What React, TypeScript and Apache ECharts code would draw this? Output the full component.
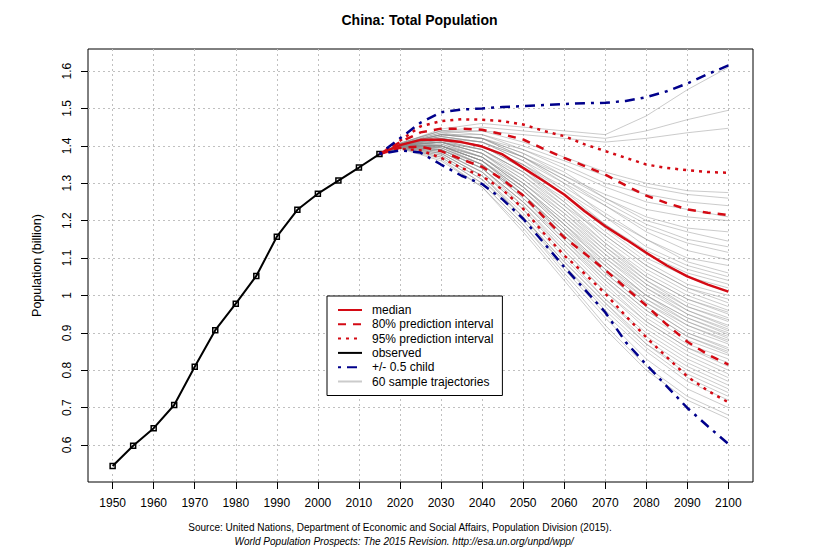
import React, { useEffect, useRef } from "react";
import * as echarts from "echarts";

const obsYears = [1950, 1955, 1960, 1965, 1970, 1975, 1980, 1985, 1990, 1995, 2000, 2005, 2010, 2015];
const observed = [0.544, 0.598, 0.645, 0.707, 0.809, 0.907, 0.978, 1.052, 1.157, 1.229, 1.272, 1.307, 1.342, 1.378];

const projYears = [2015, 2020, 2025, 2030, 2035, 2040, 2045, 2050, 2055, 2060, 2065, 2070, 2075, 2080, 2085, 2090, 2095, 2100];
const median = [1.378, 1.402, 1.416, 1.416, 1.41, 1.398, 1.377, 1.341, 1.306, 1.27, 1.225, 1.185, 1.15, 1.114, 1.08, 1.051, 1.029, 1.01];
const upper80 = [1.378, 1.41, 1.436, 1.446, 1.446, 1.443, 1.431, 1.417, 1.392, 1.368, 1.346, 1.323, 1.294, 1.267, 1.247, 1.23, 1.221, 1.215];
const lower80 = [1.378, 1.395, 1.398, 1.386, 1.364, 1.344, 1.31, 1.267, 1.21, 1.155, 1.112, 1.068, 1.02, 0.973, 0.922, 0.876, 0.842, 0.815];
const upper95 = [1.378, 1.414, 1.452, 1.466, 1.471, 1.47, 1.466, 1.457, 1.44, 1.426, 1.404, 1.386, 1.368, 1.35, 1.341, 1.335, 1.33, 1.328];
const lower95 = [1.378, 1.392, 1.388, 1.368, 1.341, 1.319, 1.283, 1.232, 1.167, 1.107, 1.058, 1.005, 0.945, 0.888, 0.835, 0.783, 0.745, 0.714];
const upperChild = [1.378, 1.42, 1.462, 1.49, 1.497, 1.5, 1.504, 1.506, 1.509, 1.512, 1.514, 1.515, 1.52, 1.53, 1.546, 1.567, 1.592, 1.615];
const lowerChild = [1.378, 1.388, 1.382, 1.35, 1.32, 1.298, 1.257, 1.205, 1.141, 1.076, 1.016, 0.955, 0.875, 0.815, 0.757, 0.699, 0.65, 0.603];

const trajYears = [2015, 2020, 2030, 2040, 2050, 2060, 2070, 2080, 2090, 2100];
const trajectories = [
  [1.378, 1.405, 1.445, 1.46, 1.45, 1.44, 1.43, 1.48, 1.55, 1.61],
  [1.378, 1.408, 1.44, 1.45, 1.44, 1.43, 1.42, 1.44, 1.47, 1.495],
  [1.378, 1.407, 1.44, 1.44, 1.43, 1.42, 1.41, 1.42, 1.435, 1.447],
  [1.378, 1.405, 1.435, 1.44, 1.41, 1.37, 1.33, 1.3, 1.28, 1.275],
  [1.378, 1.404, 1.43, 1.43, 1.4, 1.36, 1.32, 1.29, 1.27, 1.26],
  [1.378, 1.406, 1.44, 1.43, 1.39, 1.35, 1.3, 1.27, 1.25, 1.24],
  [1.378, 1.403, 1.43, 1.42, 1.39, 1.34, 1.29, 1.25, 1.23, 1.21],
  [1.378, 1.404, 1.425, 1.41, 1.37, 1.32, 1.27, 1.23, 1.21, 1.2],
  [1.378, 1.404, 1.43, 1.42, 1.38, 1.33, 1.26, 1.2, 1.17, 1.145],
  [1.378, 1.403, 1.42, 1.41, 1.36, 1.3, 1.24, 1.18, 1.14, 1.115],
  [1.378, 1.402, 1.425, 1.41, 1.37, 1.31, 1.24, 1.17, 1.12, 1.095],
  [1.378, 1.403, 1.42, 1.4, 1.35, 1.28, 1.21, 1.15, 1.1, 1.08],
  [1.378, 1.402, 1.415, 1.4, 1.35, 1.29, 1.22, 1.15, 1.09, 1.06],
  [1.378, 1.401, 1.42, 1.4, 1.34, 1.27, 1.19, 1.12, 1.07, 1.04],
  [1.378, 1.403, 1.425, 1.41, 1.36, 1.28, 1.19, 1.11, 1.06, 1.03],
  [1.378, 1.401, 1.41, 1.39, 1.33, 1.26, 1.17, 1.09, 1.03, 1.0],
  [1.378, 1.402, 1.415, 1.39, 1.33, 1.25, 1.16, 1.08, 1.02, 0.99],
  [1.378, 1.4, 1.41, 1.38, 1.32, 1.24, 1.16, 1.08, 1.02, 0.98],
  [1.378, 1.402, 1.42, 1.4, 1.34, 1.25, 1.15, 1.07, 1.01, 0.97],
  [1.378, 1.401, 1.41, 1.38, 1.31, 1.23, 1.14, 1.06, 1.0, 0.96],
  [1.378, 1.4, 1.405, 1.37, 1.3, 1.22, 1.13, 1.05, 0.99, 0.955],
  [1.378, 1.401, 1.41, 1.39, 1.33, 1.24, 1.14, 1.05, 0.99, 0.95],
  [1.378, 1.4, 1.4, 1.37, 1.3, 1.21, 1.12, 1.04, 0.98, 0.94],
  [1.378, 1.402, 1.415, 1.39, 1.32, 1.23, 1.13, 1.04, 0.97, 0.935],
  [1.378, 1.399, 1.4, 1.36, 1.29, 1.2, 1.11, 1.03, 0.97, 0.93],
  [1.378, 1.401, 1.41, 1.38, 1.31, 1.22, 1.12, 1.03, 0.96, 0.92],
  [1.378, 1.4, 1.4, 1.37, 1.29, 1.2, 1.1, 1.02, 0.96, 0.915],
  [1.378, 1.399, 1.4, 1.36, 1.28, 1.19, 1.1, 1.01, 0.95, 0.91],
  [1.378, 1.401, 1.41, 1.38, 1.3, 1.21, 1.11, 1.02, 0.95, 0.905],
  [1.378, 1.4, 1.4, 1.36, 1.28, 1.18, 1.09, 1.0, 0.94, 0.9],
  [1.378, 1.398, 1.395, 1.35, 1.27, 1.17, 1.08, 1.0, 0.94, 0.895],
  [1.378, 1.4, 1.405, 1.37, 1.29, 1.19, 1.09, 1.0, 0.93, 0.89],
  [1.378, 1.399, 1.4, 1.36, 1.27, 1.17, 1.07, 0.99, 0.93, 0.885],
  [1.378, 1.401, 1.41, 1.37, 1.29, 1.19, 1.08, 0.99, 0.92, 0.88],
  [1.378, 1.398, 1.39, 1.35, 1.26, 1.16, 1.07, 0.98, 0.92, 0.875],
  [1.378, 1.4, 1.4, 1.36, 1.28, 1.18, 1.07, 0.98, 0.91, 0.87],
  [1.378, 1.399, 1.395, 1.35, 1.27, 1.16, 1.06, 0.97, 0.9, 0.86],
  [1.378, 1.4, 1.4, 1.36, 1.27, 1.17, 1.06, 0.97, 0.9, 0.855],
  [1.378, 1.398, 1.39, 1.34, 1.25, 1.15, 1.05, 0.96, 0.89, 0.85],
  [1.378, 1.399, 1.4, 1.35, 1.27, 1.16, 1.05, 0.96, 0.89, 0.845],
  [1.378, 1.397, 1.39, 1.34, 1.25, 1.14, 1.04, 0.95, 0.88, 0.84],
  [1.378, 1.399, 1.395, 1.35, 1.26, 1.15, 1.04, 0.94, 0.87, 0.83],
  [1.378, 1.397, 1.385, 1.33, 1.24, 1.13, 1.02, 0.93, 0.86, 0.82],
  [1.378, 1.398, 1.39, 1.34, 1.25, 1.14, 1.03, 0.93, 0.86, 0.81],
  [1.378, 1.397, 1.385, 1.33, 1.23, 1.12, 1.01, 0.92, 0.85, 0.8],
  [1.378, 1.398, 1.39, 1.34, 1.24, 1.12, 1.01, 0.91, 0.84, 0.79],
  [1.378, 1.396, 1.38, 1.32, 1.22, 1.1, 0.99, 0.9, 0.83, 0.78],
  [1.378, 1.397, 1.385, 1.33, 1.23, 1.11, 0.99, 0.89, 0.82, 0.77],
  [1.378, 1.396, 1.38, 1.32, 1.21, 1.09, 0.98, 0.88, 0.81, 0.76],
  [1.378, 1.395, 1.375, 1.31, 1.21, 1.09, 0.98, 0.87, 0.8, 0.75],
  [1.378, 1.396, 1.38, 1.32, 1.21, 1.08, 0.97, 0.87, 0.79, 0.74],
  [1.378, 1.395, 1.375, 1.31, 1.2, 1.08, 0.96, 0.86, 0.78, 0.73],
  [1.378, 1.394, 1.37, 1.3, 1.19, 1.07, 0.95, 0.85, 0.77, 0.72],
  [1.378, 1.395, 1.37, 1.3, 1.19, 1.06, 0.94, 0.83, 0.75, 0.7],
  [1.378, 1.394, 1.365, 1.29, 1.18, 1.05, 0.92, 0.81, 0.73, 0.68],
  [1.378, 1.393, 1.36, 1.29, 1.17, 1.04, 0.91, 0.8, 0.72, 0.67],
  [1.378, 1.405, 1.435, 1.42, 1.38, 1.32, 1.26, 1.21, 1.18, 1.17],
  [1.378, 1.404, 1.43, 1.42, 1.37, 1.31, 1.25, 1.19, 1.15, 1.13],
  [1.378, 1.404, 1.43, 1.42, 1.37, 1.3, 1.21, 1.13, 1.08, 1.05],
  [1.378, 1.402, 1.42, 1.4, 1.35, 1.27, 1.18, 1.1, 1.05, 1.02],
];

const xTicks = [1950, 1960, 1970, 1980, 1990, 2000, 2010, 2020, 2030, 2040, 2050, 2060, 2070, 2080, 2090, 2100];
const yTicks = [0.6, 0.7, 0.8, 0.9, 1, 1.1, 1.2, 1.3, 1.4, 1.5, 1.6];

const legendNames = [
  "median",
  "80% prediction interval",
  "95% prediction interval",
  "observed",
  "+/- 0.5 child",
  "60 sample trajectories",
];

const RED = "#d40a14";
const BLUE = "#00008b";
const FONT = "Liberation Sans, Arial, sans-serif";

const pair = (xs: number[], ys: number[]) => xs.map((x, i) => [x, ys[i]]);

export default function App() {
  const ref = useRef<HTMLDivElement>(null);
  useEffect(() => {
    if (!ref.current) return;
    const chart = echarts.init(ref.current, undefined, { renderer: "svg" });

    const trajSeries = trajectories.map((t) => ({
      type: "line",
      name: legendNames[5],
      data: pair(trajYears, t),
      symbol: "none",
      silent: true,
      lineStyle: { color: "rgba(140,140,140,0.45)", width: 1 },
      itemStyle: { color: "rgba(140,140,140,0.45)" },
    }));

    const band = (name: string, ys: number[], color: string, width: number, type: any) => ({
      type: "line",
      name,
      data: pair(projYears, ys),
      symbol: "none",
      silent: true,
      lineStyle: { color, width, type, cap: "butt" },
      itemStyle: { color },
    });

    const option: any = {
      animation: false,
      textStyle: { fontFamily: FONT },
      title: [
        {
          text: "China: Total Population",
          left: "center",
          top: 13,
          padding: 0,
          textStyle: { fontFamily: FONT, fontSize: 14, fontWeight: "bold", color: "#000" },
        },
        {
          text: "Source: United Nations, Department of Economic and Social Affairs, Population Division (2015).",
          left: 400,
          top: 522,
          textAlign: "center",
          padding: 0,
          textStyle: { fontFamily: FONT, fontSize: 10, fontWeight: "normal", color: "#000" },
        },
        {
          text: "World Population Prospects: The 2015 Revision. http://esa.un.org/unpd/wpp/",
          left: 404,
          top: 536,
          textAlign: "center",
          padding: 0,
          textStyle: { fontFamily: FONT, fontSize: 10, fontWeight: "normal", fontStyle: "italic", color: "#000" },
        },
      ],
      grid: {
        left: 88,
        right: 86,
        top: 49,
        bottom: 78,
        show: true,
        borderColor: "#000",
        borderWidth: 1,
        backgroundColor: "transparent",
      },
      legend: {
        data: legendNames,
        orient: "vertical",
        left: 327,
        top: 296,
        padding: [8, 9, 8, 10],
        itemGap: 2.3,
        itemWidth: 24,
        itemHeight: 12,
        borderColor: "#000",
        borderWidth: 1,
        borderRadius: 0,
        backgroundColor: "#fff",
        selectedMode: false,
        itemStyle: { opacity: 0 },
        textStyle: { fontFamily: FONT, fontSize: 12, color: "#000", padding: [0, 0, 0, 5] },
      },
      xAxis: {
        type: "value",
        min: 1944,
        max: 2106,
        axisLine: { show: false },
        axisTick: { show: true, length: 7, lineStyle: { color: "#000" }, customValues: xTicks },
        axisLabel: {
          customValues: xTicks,
          margin: 15,
          fontSize: 12,
          color: "#000",
          fontFamily: FONT,
          formatter: (v: number) => String(v),
        },
        splitLine: { show: true, lineStyle: { color: "#c0c0c0", type: [2, 3], width: 1 } },
      },
      yAxis: {
        type: "value",
        min: 0.501,
        max: 1.659,
        name: "Population (billion)",
        nameLocation: "middle",
        nameGap: 45,
        nameTextStyle: { fontFamily: FONT, fontSize: 12.5, color: "#000" },
        axisLine: { show: false },
        axisTick: { show: true, length: 7, lineStyle: { color: "#000" }, customValues: yTicks },
        axisLabel: {
          customValues: yTicks,
          rotate: 90,
          margin: 15,
          fontSize: 12,
          color: "#000",
          fontFamily: FONT,
          formatter: (v: number) => String(Math.round(v * 10) / 10),
        },
        splitLine: { show: true, lineStyle: { color: "#c0c0c0", type: [2, 3], width: 1 } },
      },
      series: [
        ...trajSeries,
        band(legendNames[2], upper95, RED, 2.5, [3, 5]),
        band(legendNames[2], lower95, RED, 2.5, [3, 5]),
        band(legendNames[1], upper80, RED, 2.5, [8, 7]),
        band(legendNames[1], lower80, RED, 2.5, [8, 7]),
        band(legendNames[0], median, RED, 2.5, "solid"),
        band(legendNames[4], upperChild, BLUE, 2.5, [3, 6, 10, 6]),
        band(legendNames[4], lowerChild, BLUE, 2.5, [3, 6, 10, 6]),
        {
          type: "line",
          name: legendNames[3],
          data: pair(obsYears, observed),
          symbol: "none",
          silent: true,
          lineStyle: { color: "#000", width: 2 },
          itemStyle: { color: "#000" },
        },
        {
          type: "scatter",
          name: "obs-halo",
          data: pair(obsYears, observed).slice(0, -1),
          symbol: "rect",
          symbolSize: 11,
          silent: true,
          itemStyle: { color: "#fff", opacity: 1 },
        },
        {
          type: "scatter",
          name: "obs-points",
          data: pair(obsYears, observed),
          symbol: "rect",
          symbolSize: 5,
          silent: true,
          itemStyle: { color: "#fff", borderColor: "#000", borderWidth: 1.5, opacity: 1 },
        },
      ],
    };

    chart.setOption(option);
    return () => chart.dispose();
  }, []);

  return (
    <div
      ref={ref}
      style={{ position: "fixed", left: 0, top: 0, width: 839, height: 560, background: "#fff" }}
    />
  );
}
